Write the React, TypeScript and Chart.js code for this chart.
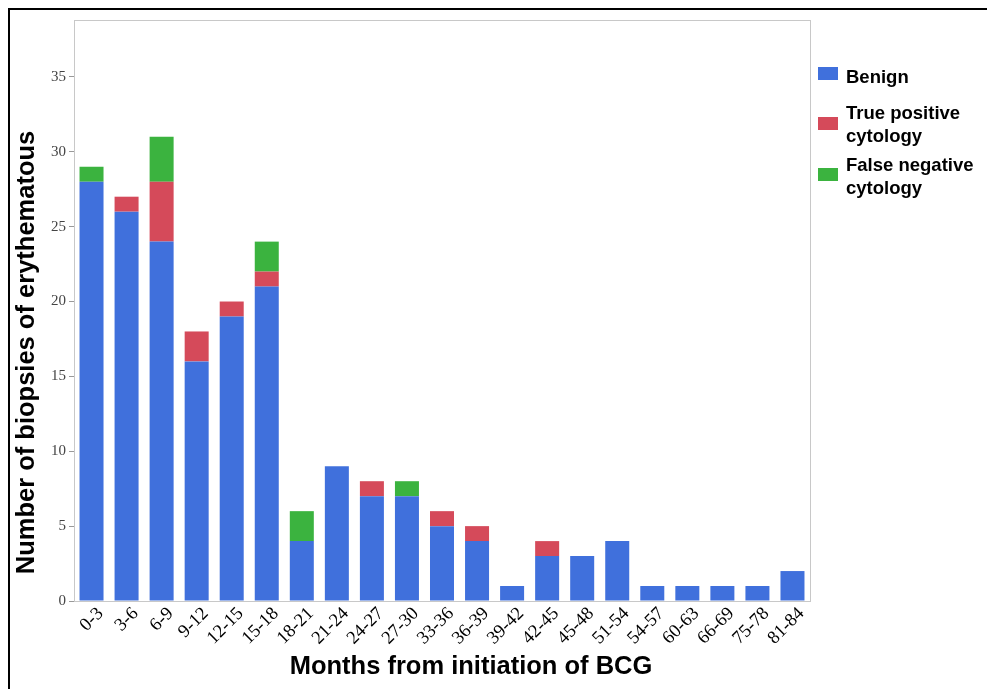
import React, { useEffect, useRef } from "react";
import { Chart, registerables } from "chart.js";

Chart.register(...registerables);

const categories = [
  "0-3", "3-6", "6-9", "9-12", "12-15", "15-18", "18-21", "21-24", "24-27", "27-30",
  "33-36", "36-39", "39-42", "42-45", "45-48", "51-54", "54-57", "60-63", "66-69", "75-78", "81-84",
];
const benign = [28, 26, 24, 16, 19, 21, 4, 9, 7, 7, 5, 4, 1, 3, 3, 4, 1, 1, 1, 1, 2];
const truePositive = [0, 1, 4, 2, 1, 1, 0, 0, 1, 0, 1, 1, 0, 1, 0, 0, 0, 0, 0, 0, 0];
const falseNegative = [1, 0, 3, 0, 0, 2, 2, 0, 0, 1, 0, 0, 0, 0, 0, 0, 0, 0, 0, 0, 0];
const yTicks = [0, 5, 10, 15, 20, 25, 30, 35];
const xTitle = "Months from initiation of BCG";
const yTitle = "Number of biopsies of erythematous";

const BLUE = "#4070DC";
const RED = "#D54A5A";
const GREEN = "#3BB33F";

const legendItems = [
  { color: BLUE, lines: ["Benign"], swatchTop: 59, textTop: 57 },
  { color: RED, lines: ["True positive", "cytology"], swatchTop: 109, textTop: 93 },
  { color: GREEN, lines: ["False negative", "cytology"], swatchTop: 160, textTop: 145 },
];

const frameAndTitles = {
  id: "frameAndTitles",
  afterDraw(chart: any) {
    const { ctx, chartArea } = chart;
    ctx.save();
    ctx.strokeStyle = "#c8c8c8";
    ctx.lineWidth = 1;
    ctx.strokeRect(chartArea.left + 0.5, chartArea.top + 0.5, chartArea.right - chartArea.left, chartArea.bottom - chartArea.top);
    ctx.fillStyle = "#000";
    ctx.font = "bold 25.5px 'Liberation Sans'";
    ctx.textAlign = "center";
    ctx.textBaseline = "middle";
    const cx = (chartArea.left + chartArea.right) / 2;
    const cy = (chartArea.top + chartArea.bottom) / 2;
    ctx.fillText(xTitle, cx + 29, chartArea.bottom + 66);
    ctx.translate(19, cy + 42);
    ctx.rotate(-Math.PI / 2);
    ctx.fillText(yTitle, 0, 0);
    ctx.restore();
  },
};

export default function App() {
  const ref = useRef<HTMLCanvasElement>(null);
  useEffect(() => {
    document.documentElement.style.overflow = "hidden";
    if (!ref.current) return;
    const chart = new Chart(ref.current, {
      type: "bar",
      data: {
        labels: categories,
        datasets: [
          { label: "Benign", data: benign, backgroundColor: BLUE },
          { label: "True positive cytology", data: truePositive, backgroundColor: RED },
          { label: "False negative cytology", data: falseNegative, backgroundColor: GREEN },
        ],
      },
      options: {
        responsive: false,
        animation: false,
        datasets: { bar: { categoryPercentage: 1, barPercentage: 0.685 } },
        layout: { padding: { left: 0, top: 11, right: 177, bottom: 0 } },
        plugins: { legend: { display: false }, tooltip: { enabled: false } },
        scales: {
          x: {
            stacked: true,
            grid: { display: false },
            border: { display: false },
            ticks: {
              color: "#000",
              font: { family: "Liberation Serif", size: 18.5 },
              minRotation: 45,
              maxRotation: 45,
              autoSkip: false,
              padding: -6,
              labelOffset: 9,
            },
            afterFit: (s: any) => { s.height = 88; },
          },
          y: {
            stacked: true,
            min: 0,
            max: 38.8,
            grid: { drawOnChartArea: false, drawTicks: true, tickLength: 5, color: "#999" },
            border: { display: false },
            ticks: {
              stepSize: 5,
              color: "#444",
              font: { family: "Liberation Serif", size: 15 },
              padding: 3,
            },
            afterBuildTicks: (s: any) => {
              s.ticks = yTicks.map((v) => ({ value: v }));
            },
            afterFit: (s: any) => { s.width = 66; },
          },
        },
      },
      plugins: [frameAndTitles],
    });
    return () => chart.destroy();
  }, []);

  return (
    <div style={{ position: "relative", width: 971, height: 673 }}>
      <div style={{ position: "fixed", left: 8, top: 8, width: 2000, height: 2000, borderTop: "2px solid #000", borderLeft: "2px solid #000", boxSizing: "border-box" }} />
      <canvas ref={ref} width={979} height={681} style={{ position: "absolute", left: 0, top: 0 }} />
      {legendItems.map((it, i) => (
        <React.Fragment key={i}>
          <div style={{ position: "absolute", left: 810, top: it.swatchTop, width: 20, height: 13, background: it.color }} />
          <div style={{ position: "absolute", left: 838, top: it.textTop, fontFamily: "Liberation Sans", fontWeight: "bold", fontSize: 18.5, lineHeight: "23px", color: "#000", whiteSpace: "nowrap" }}>
            {it.lines.map((l, j) => <div key={j}>{l}</div>)}
          </div>
        </React.Fragment>
      ))}
    </div>
  );
}
